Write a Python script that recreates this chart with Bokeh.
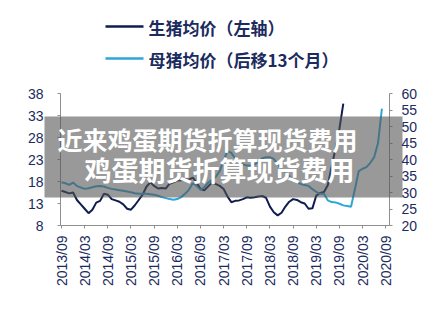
import math
from bokeh.plotting import figure
from bokeh.models import Range1d, LinearAxis, FixedTicker, BoxAnnotation, Label, Arrow
from bokeh.embed import file_html
from bokeh.resources import INLINE

tick_labels = ["2013/09", "2014/03", "2014/09", "2015/03", "2015/09", "2016/03",
               "2016/09", "2017/03", "2017/09", "2018/03", "2018/09", "2019/03",
               "2019/09", "2020/03", "2020/09"]

# 生猪均价（左轴）, monthly from 2013/09
hog_price = [15.9, 15.6, 15.3, 15.5, 13.8, 12.8, 11.8, 10.8, 11.6, 13.2,
             13.6, 15.2, 15.0, 14.0, 13.7, 13.4, 12.8, 11.8, 11.6, 12.6,
             13.8, 15.0, 16.8, 17.8, 17.0, 16.4, 16.5, 16.4, 17.5, 17.8,
             18.2, 18.3, 18.5, 18.4, 18.9, 17.8, 16.3, 16.0, 16.9, 17.8,
             17.4, 17.0, 16.3, 14.6, 13.3, 13.6, 13.7, 14.0, 14.4, 14.3,
             14.4, 14.6, 14.7, 14.3, 12.3, 11.0, 10.3, 10.9, 12.3, 13.4,
             14.0, 13.8, 13.3, 13.0, 11.8, 11.9, 14.8, 15.4, 15.6, 17.2,
             21.5, 25.5, 30.0, 35.7]

# 母猪均价（后移13个月）（右轴）, monthly from 2013/09
sow_price = [33.1, 32.8, 32.3, 33.0, 32.0, 31.5, 31.1, 31.3, 31.6, 31.9,
             32.0, 31.8, 31.4, 31.1, 30.9, 30.7, 30.5, 30.3, 30.1, 29.8,
             29.6, 29.6, 29.6, 29.5, 29.3, 29.0, 28.6, 28.3, 28.0, 27.8,
             28.0, 28.6, 29.6, 30.8, 32.8, 32.0, 30.8, 31.6, 33.0, 33.8,
             34.8, 36.5, 39.8, 42.5, 42.0, 40.3, 39.3, 38.5, 38.2, 38.2,
             38.5, 39.2, 40.4, 40.7, 40.7, 40.2, 38.5, 37.2, 36.2, 35.0,
             33.8, 33.0, 32.6, 32.3, 32.0, 31.0, 30.2, 29.6, 29.6, 27.6,
             27.1, 27.0, 26.6, 26.1, 25.9, 25.7, 31.0, 36.5, 37.2, 37.7,
             39.0, 40.7, 45.0, 55.4]

left_ticks = [8, 13, 18, 23, 28, 33, 38]
right_ticks = [20, 25, 30, 35, 40, 45, 50, 55, 60]

hog_months = list(range(len(hog_price)))
sow_months = list(range(len(sow_price)))
tick_pos = [6 * i for i in range(len(tick_labels))]

NAVY = "#0e1d4e"
BLUE = "#2ea6d8"
TXT = "#1b2b5e"
AX = "#8f8f8f"

W, H = 447, 313
# axis box in pixels (frame covers the whole canvas)
FL, FR, FT, FB = 60, 389, 93, 225
X0, X1 = -0.26, 84.97          # x data at axis box left/right
Y0, Y1 = 8, 38                 # left axis range
R0, R1 = 20, 60                # right axis range

sx = (X1 - X0) / (FR - FL)
sy = (Y1 - Y0) / (FB - FT)
sr = (R1 - R0) / (FB - FT)

def dx(px):
    return X0 + (px - FL) * sx

def dy(py):
    return Y1 - (py - FT) * sy

p = figure(width=W, height=H, output_backend="svg", toolbar_location=None,
           x_range=Range1d(dx(0), dx(W)), y_range=Range1d(dy(H), dy(0)),
           x_axis_location=None, y_axis_location=None,
           min_border_left=0, min_border_right=0, min_border_top=0, min_border_bottom=0)
p.extra_y_ranges = {"right": Range1d(R0 - (H - FB) * sr, R1 + FT * sr)}
p.outline_line_color = None
p.xgrid.visible = False
p.ygrid.visible = False

p.line(hog_months, hog_price, line_color=NAVY, line_width=2)
p.line(sow_months, sow_price, line_color=BLUE, line_width=2, y_range_name="right")

def style_axis(ax):
    ax.axis_line_color = AX
    ax.major_tick_line_color = AX
    ax.minor_tick_line_color = None
    ax.major_tick_in = 0
    ax.major_tick_out = 3
    ax.major_label_text_font = "Liberation Sans"
    ax.major_label_text_font_size = "14px"
    ax.major_label_text_color = TXT

xa = LinearAxis(fixed_location=Y0, bounds=(X0, X1), ticker=FixedTicker(ticks=tick_pos))
style_axis(xa)
xa.major_label_overrides = {t: l for t, l in zip(tick_pos, tick_labels)}
xa.major_label_orientation = math.pi / 2
xa.major_label_standoff = 7
p.add_layout(xa, "below")

ya = LinearAxis(fixed_location=X0, bounds=(Y0, Y1), ticker=FixedTicker(ticks=left_ticks))
style_axis(ya)
ya.major_label_standoff = 14
p.add_layout(ya, "left")

ra = LinearAxis(y_range_name="right", fixed_location=X1, bounds=(R0, R1),
                ticker=FixedTicker(ticks=right_ticks))
style_axis(ra)
ra.major_label_standoff = 9
p.add_layout(ra, "right")

# legend (drawn manually above plot)
p.add_layout(Arrow(end=None, x_start=dx(105), y_start=dy(26), x_end=dx(143), y_end=dy(26),
                   line_color=NAVY, line_width=2.5))
p.add_layout(Arrow(end=None, x_start=dx(105), y_start=dy(58), x_end=dx(143), y_end=dy(58),
                   line_color=BLUE, line_width=2.5))
p.add_layout(Label(x=dx(148), y=dy(27), text="生猪均价（左轴）", text_font="Noto Sans CJK SC",
                   text_font_size="17px", text_font_style="bold", text_color=TXT,
                   text_baseline="middle", text_align="left"))
p.add_layout(Label(x=dx(148), y=dy(59), text="母猪均价（后移13个月）", text_font="Noto Sans CJK SC",
                   text_font_size="17px", text_font_style="bold", text_color=TXT,
                   text_baseline="middle", text_align="left"))

# gray overlay band with text
p.add_layout(BoxAnnotation(left=dx(44), right=dx(402), top=dy(116), bottom=dy(197),
                           fill_color="#555555", fill_alpha=0.6, line_color=None))
p.add_layout(Label(x=dx(57), y=dy(138), text="近来鸡蛋期货折算现货费用", text_font="Noto Sans CJK SC",
                   text_font_size="25px", text_font_style="bold", text_color="white",
                   text_baseline="middle", text_align="left"))
p.add_layout(Label(x=dx(84), y=dy(169), text="鸡蛋期货折算现货费用", text_font="Noto Sans CJK SC",
                   text_font_size="27px", text_font_style="bold", text_color="white",
                   text_baseline="middle", text_align="left"))

open("out.html", "w").write(file_html(p, INLINE))
